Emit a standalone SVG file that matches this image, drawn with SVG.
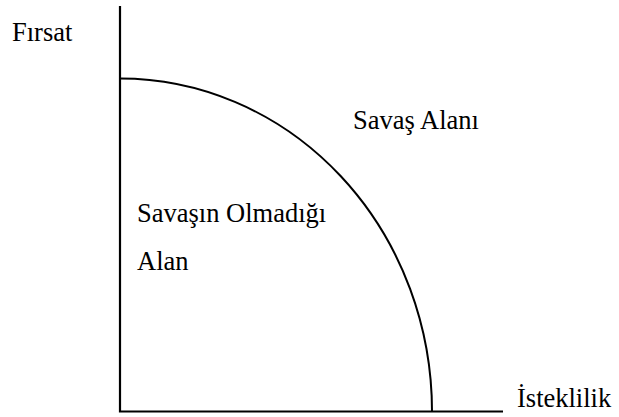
<svg xmlns="http://www.w3.org/2000/svg" width="619" height="417" viewBox="0 0 619 417">
<style>
.t{font-family:"Liberation Serif","Times New Roman",serif;font-size:26.5px;fill:#000}
.ax{stroke:#000;stroke-width:2.2;fill:none}
.cv{stroke:#000;stroke-width:2;fill:none}
</style>
<rect width="619" height="417" fill="#fff"/>
<g id="connectors">
<path class="ax" d="M120,6 V411.5 H503"/>
<path id="curve" class="cv" d="M120,78.5 A312,333 0 0 1 432,411.5"/>
</g>
<g id="label-firsat"><text class="t" x="12" y="41">Fırsat</text></g>
<g id="label-savas-alani"><text class="t" x="353" y="129">Savaş Alanı</text></g>
<g id="label-savasin-olmadigi-alan"><text class="t" x="137" y="222">Savaşın Olmadığı</text><text class="t" x="137" y="270">Alan</text></g>
<g id="label-isteklilik"><text class="t" x="517" y="407">İsteklilik</text></g>
</svg>
